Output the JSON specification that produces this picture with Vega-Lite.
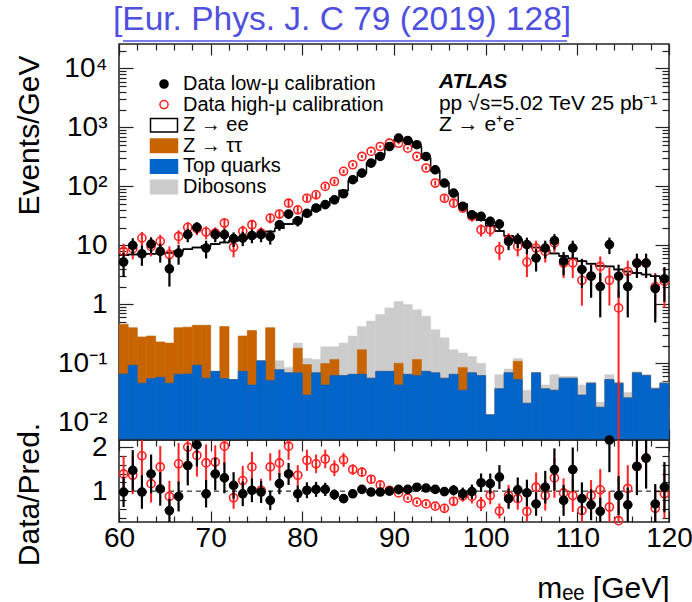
{
  "$schema": "https://vega.github.io/schema/vega-lite/v6.json",
  "autosize": {"type": "pad"},
  "padding": {"left": 13, "top": 3, "right": 0, "bottom": 0},
  "spacing": 0,
  "bounds": "flush",
  "title": {"text": "[Eur. Phys. J. C 79 (2019) 128]", "color": "#5050e0", "fontSize": 33.5, "font": "Liberation Sans", "fontWeight": "normal", "anchor": "start", "frame": "group", "dx": -6, "offset": -28, "baseline": "alphabetic"},
  "config": {
    "font": "Liberation Sans",
    "view": {"stroke": "#222222", "strokeWidth": 1.5},
    "axis": {"domain": false, "grid": false, "minExtent": 0, "labelFont": "Liberation Sans", "labelFontSize": 28, "labelColor": "#000000", "tickColor": "#222222", "tickWidth": 1.2, "titleFont": "Liberation Sans", "titleFontSize": 30, "titleFontWeight": "normal", "titleColor": "#000000", "labelOverlap": false, "labelFlush": false}
  },
  "datasets": {
    "bins": [
      {"m0":60,"m1":61,"m":60.5,"top":0.066,"ztt":0.46,"dib":0.46,"zee":6.8},
      {"m0":61,"m1":62,"m":61.5,"top":0.093,"ztt":0.40,"dib":0.40,"zee":7.0},
      {"m0":62,"m1":63,"m":62.5,"top":0.046,"ztt":0.28,"dib":0.28,"zee":7.1},
      {"m0":63,"m1":64,"m":63.5,"top":0.055,"ztt":0.29,"dib":0.29,"zee":7.2},
      {"m0":64,"m1":65,"m":64.5,"top":0.058,"ztt":0.23,"dib":0.23,"zee":7.3},
      {"m0":65,"m1":66,"m":65.5,"top":0.046,"ztt":0.22,"dib":0.22,"zee":7.5},
      {"m0":66,"m1":67,"m":66.5,"top":0.065,"ztt":0.40,"dib":0.40,"zee":8.0},
      {"m0":67,"m1":68,"m":67.5,"top":0.066,"ztt":0.41,"dib":0.41,"zee":8.6},
      {"m0":68,"m1":69,"m":68.5,"top":0.093,"ztt":0.44,"dib":0.44,"zee":9.2},
      {"m0":69,"m1":70,"m":69.5,"top":0.056,"ztt":0.44,"dib":0.44,"zee":9.8},
      {"m0":70,"m1":71,"m":70.5,"top":0.073,"ztt":0.073,"dib":0.073,"zee":10.5},
      {"m0":71,"m1":72,"m":71.5,"top":0.055,"ztt":0.42,"dib":0.42,"zee":11.2},
      {"m0":72,"m1":73,"m":72.5,"top":0.053,"ztt":0.053,"dib":0.053,"zee":12.0},
      {"m0":73,"m1":74,"m":73.5,"top":0.073,"ztt":0.29,"dib":0.29,"zee":12.9},
      {"m0":74,"m1":75,"m":74.5,"top":0.043,"ztt":0.36,"dib":0.36,"zee":14.0},
      {"m0":75,"m1":76,"m":75.5,"top":0.11,"ztt":0.11,"dib":0.11,"zee":15.3},
      {"m0":76,"m1":77,"m":76.5,"top":0.051,"ztt":0.40,"dib":0.40,"zee":17.2},
      {"m0":77,"m1":78,"m":77.5,"top":0.078,"ztt":0.078,"dib":0.11,"zee":19.5},
      {"m0":78,"m1":79,"m":78.5,"top":0.069,"ztt":0.069,"dib":0.085,"zee":23},
      {"m0":79,"m1":80,"m":79.5,"top":0.069,"ztt":0.18,"dib":0.22,"zee":27},
      {"m0":80,"m1":81,"m":80.5,"top":0.029,"ztt":0.095,"dib":0.12,"zee":33},
      {"m0":81,"m1":82,"m":81.5,"top":0.069,"ztt":0.069,"dib":0.116,"zee":40},
      {"m0":82,"m1":83,"m":82.5,"top":0.043,"ztt":0.099,"dib":0.19,"zee":48},
      {"m0":83,"m1":84,"m":83.5,"top":0.062,"ztt":0.116,"dib":0.19,"zee":62},
      {"m0":84,"m1":85,"m":84.5,"top":0.062,"ztt":0.062,"dib":0.22,"zee":85},
      {"m0":85,"m1":86,"m":85.5,"top":0.065,"ztt":0.065,"dib":0.29,"zee":125},
      {"m0":86,"m1":87,"m":86.5,"top":0.065,"ztt":0.17,"dib":0.42,"zee":170},
      {"m0":87,"m1":88,"m":87.5,"top":0.056,"ztt":0.056,"dib":0.52,"zee":250},
      {"m0":88,"m1":89,"m":88.5,"top":0.073,"ztt":0.073,"dib":0.67,"zee":340},
      {"m0":89,"m1":90,"m":89.5,"top":0.073,"ztt":0.073,"dib":0.87,"zee":470},
      {"m0":90,"m1":91,"m":90.5,"top":0.043,"ztt":0.10,"dib":1.12,"zee":620},
      {"m0":91,"m1":92,"m":91.5,"top":0.065,"ztt":0.065,"dib":0.99,"zee":590},
      {"m0":92,"m1":93,"m":92.5,"top":0.062,"ztt":0.116,"dib":0.81,"zee":470},
      {"m0":93,"m1":94,"m":93.5,"top":0.073,"ztt":0.073,"dib":0.63,"zee":300},
      {"m0":94,"m1":95,"m":94.5,"top":0.069,"ztt":0.069,"dib":0.37,"zee":185},
      {"m0":95,"m1":96,"m":95.5,"top":0.056,"ztt":0.056,"dib":0.27,"zee":115},
      {"m0":96,"m1":97,"m":96.5,"top":0.065,"ztt":0.065,"dib":0.17,"zee":76},
      {"m0":97,"m1":98,"m":97.5,"top":0.035,"ztt":0.085,"dib":0.15,"zee":50},
      {"m0":98,"m1":99,"m":98.5,"top":0.069,"ztt":0.069,"dib":0.13,"zee":35},
      {"m0":99,"m1":100,"m":99.5,"top":0.062,"ztt":0.062,"dib":0.10,"zee":27},
      {"m0":100,"m1":101,"m":100.5,"top":0.0134,"ztt":0.0134,"dib":0.0134,"zee":21.5},
      {"m0":101,"m1":102,"m":101.5,"top":0.037,"ztt":0.037,"dib":0.064,"zee":17.5},
      {"m0":102,"m1":103,"m":102.5,"top":0.069,"ztt":0.069,"dib":0.08,"zee":14.5},
      {"m0":103,"m1":104,"m":103.5,"top":0.053,"ztt":0.108,"dib":0.12,"zee":12.3},
      {"m0":104,"m1":105,"m":104.5,"top":0.021,"ztt":0.021,"dib":0.035,"zee":10.6},
      {"m0":105,"m1":106,"m":105.5,"top":0.069,"ztt":0.069,"dib":0.07,"zee":9.2},
      {"m0":106,"m1":107,"m":106.5,"top":0.037,"ztt":0.037,"dib":0.043,"zee":8.2},
      {"m0":107,"m1":108,"m":107.5,"top":0.035,"ztt":0.035,"dib":0.064,"zee":7.3},
      {"m0":108,"m1":109,"m":108.5,"top":0.056,"ztt":0.056,"dib":0.06,"zee":6.6},
      {"m0":109,"m1":110,"m":109.5,"top":0.056,"ztt":0.056,"dib":0.06,"zee":6.0},
      {"m0":110,"m1":111,"m":110.5,"top":0.029,"ztt":0.029,"dib":0.043,"zee":5.4},
      {"m0":111,"m1":112,"m":111.5,"top":0.046,"ztt":0.046,"dib":0.048,"zee":4.9},
      {"m0":112,"m1":113,"m":112.5,"top":0.018,"ztt":0.018,"dib":0.022,"zee":4.5},
      {"m0":113,"m1":114,"m":113.5,"top":0.053,"ztt":0.053,"dib":0.064,"zee":4.4},
      {"m0":114,"m1":115,"m":114.5,"top":0.046,"ztt":0.046,"dib":0.048,"zee":3.9},
      {"m0":115,"m1":116,"m":115.5,"top":0.026,"ztt":0.026,"dib":0.032,"zee":3.6},
      {"m0":116,"m1":117,"m":116.5,"top":0.069,"ztt":0.069,"dib":0.072,"zee":3.4},
      {"m0":117,"m1":118,"m":117.5,"top":0.062,"ztt":0.062,"dib":0.065,"zee":3.2},
      {"m0":118,"m1":119,"m":118.5,"top":0.037,"ztt":0.037,"dib":0.039,"zee":3.0},
      {"m0":119,"m1":120,"m":119.5,"top":0.046,"ztt":0.046,"dib":0.048,"zee":2.8}
    ],
    "pts": [
      {"m":60.5,"m0":60,"m1":61,"proc":"Data high-μ calibration","v":7.9,"err":2.8,"r":1.39,"rerr":0.41},
      {"m":61.5,"m0":61,"m1":62,"proc":"Data high-μ calibration","v":8.8,"err":3.0,"r":1.36,"rerr":0.43},
      {"m":62.5,"m0":62,"m1":63,"proc":"Data high-μ calibration","v":13.3,"err":3.6,"r":1.80,"rerr":0.51},
      {"m":63.5,"m0":63,"m1":64,"proc":"Data high-μ calibration","v":9.6,"err":3.1,"r":1.17,"rerr":0.43},
      {"m":64.5,"m0":64,"m1":65,"proc":"Data high-μ calibration","v":11.7,"err":3.4,"r":1.55,"rerr":0.47},
      {"m":65.5,"m0":65,"m1":66,"proc":"Data high-μ calibration","v":7.0,"err":2.6,"r":0.88,"rerr":0.35},
      {"m":66.5,"m0":66,"m1":67,"proc":"Data high-μ calibration","v":14.2,"err":3.8,"r":1.62,"rerr":0.47},
      {"m":67.5,"m0":67,"m1":68,"proc":"Data high-μ calibration","v":20.2,"err":4.5,"r":2.0,"rerr":0.52},
      {"m":68.5,"m0":68,"m1":69,"proc":"Data high-μ calibration","v":19.2,"err":4.4,"r":1.81,"rerr":0.48},
      {"m":69.5,"m0":69,"m1":70,"proc":"Data high-μ calibration","v":16.8,"err":4.1,"r":1.64,"rerr":0.42},
      {"m":70.5,"m0":70,"m1":71,"proc":"Data high-μ calibration","v":16.2,"err":4.0,"r":1.66,"rerr":0.38},
      {"m":71.5,"m0":71,"m1":72,"proc":"Data high-μ calibration","v":23.9,"err":4.9,"r":2.02,"rerr":0.44},
      {"m":72.5,"m0":72,"m1":73,"proc":"Data high-μ calibration","v":9.3,"err":3.0,"r":0.85,"rerr":0.25},
      {"m":73.5,"m0":73,"m1":74,"proc":"Data high-μ calibration","v":17.3,"err":4.2,"r":1.24,"rerr":0.33},
      {"m":74.5,"m0":74,"m1":75,"proc":"Data high-μ calibration","v":22.4,"err":4.7,"r":1.55,"rerr":0.34},
      {"m":75.5,"m0":75,"m1":76,"proc":"Data high-μ calibration","v":16.2,"err":4.0,"r":1.02,"rerr":0.26},
      {"m":76.5,"m0":76,"m1":77,"proc":"Data high-μ calibration","v":29,"err":5.4,"r":1.55,"rerr":0.31},
      {"m":77.5,"m0":77,"m1":78,"proc":"Data high-μ calibration","v":34,"err":5.8,"r":1.64,"rerr":0.30},
      {"m":78.5,"m0":78,"m1":79,"proc":"Data high-μ calibration","v":52,"err":7.2,"r":2.02,"rerr":0.31},
      {"m":79.5,"m0":79,"m1":80,"proc":"Data high-μ calibration","v":40,"err":6.3,"r":1.36,"rerr":0.23},
      {"m":80.5,"m0":80,"m1":81,"proc":"Data high-μ calibration","v":63,"err":7.9,"r":1.70,"rerr":0.24},
      {"m":81.5,"m0":81,"m1":82,"proc":"Data high-μ calibration","v":72,"err":8.5,"r":1.62,"rerr":0.21},
      {"m":82.5,"m0":82,"m1":83,"proc":"Data high-μ calibration","v":100,"err":10,"r":1.73,"rerr":0.21},
      {"m":83.5,"m0":83,"m1":84,"proc":"Data high-μ calibration","v":121,"err":11,"r":1.52,"rerr":0.18},
      {"m":84.5,"m0":84,"m1":85,"proc":"Data high-μ calibration","v":180,"err":13.4,"r":1.71,"rerr":0.16},
      {"m":85.5,"m0":85,"m1":86,"proc":"Data high-μ calibration","v":233,"err":15.3,"r":1.49,"rerr":0.12},
      {"m":86.5,"m0":86,"m1":87,"proc":"Data high-μ calibration","v":322,"err":17.9,"r":1.43,"rerr":0.11},
      {"m":87.5,"m0":87,"m1":88,"proc":"Data high-μ calibration","v":392,"err":19.8,"r":1.27,"rerr":0.08},
      {"m":88.5,"m0":88,"m1":89,"proc":"Data high-μ calibration","v":475,"err":21.8,"r":1.14,"rerr":0.06},
      {"m":89.5,"m0":89,"m1":90,"proc":"Data high-μ calibration","v":540,"err":23.2,"r":1.02,"rerr":0.05},
      {"m":90.5,"m0":90,"m1":91,"proc":"Data high-μ calibration","v":540,"err":23.2,"r":0.96,"rerr":0.04},
      {"m":91.5,"m0":91,"m1":92,"proc":"Data high-μ calibration","v":445,"err":21.1,"r":0.84,"rerr":0.04},
      {"m":92.5,"m0":92,"m1":93,"proc":"Data high-μ calibration","v":322,"err":17.9,"r":0.75,"rerr":0.04},
      {"m":93.5,"m0":93,"m1":94,"proc":"Data high-μ calibration","v":205,"err":14.3,"r":0.71,"rerr":0.05},
      {"m":94.5,"m0":94,"m1":95,"proc":"Data high-μ calibration","v":114,"err":10.7,"r":0.66,"rerr":0.06},
      {"m":95.5,"m0":95,"m1":96,"proc":"Data high-μ calibration","v":63,"err":7.9,"r":0.61,"rerr":0.07},
      {"m":96.5,"m0":96,"m1":97,"proc":"Data high-μ calibration","v":52,"err":7.2,"r":0.77,"rerr":0.09},
      {"m":97.5,"m0":97,"m1":98,"proc":"Data high-μ calibration","v":43,"err":6.6,"r":0.89,"rerr":0.13},
      {"m":98.5,"m0":98,"m1":99,"proc":"Data high-μ calibration","v":31,"err":5.6,"r":0.88,"rerr":0.16},
      {"m":99.5,"m0":99,"m1":100,"proc":"Data high-μ calibration","v":18.4,"err":4.3,"r":0.71,"rerr":0.16},
      {"m":100.5,"m0":100,"m1":101,"proc":"Data high-μ calibration","v":18.4,"err":4.3,"r":0.90,"rerr":0.20},
      {"m":101.5,"m0":101,"m1":102,"proc":"Data high-μ calibration","v":8.5,"err":2.9,"r":0.55,"rerr":0.17},
      {"m":102.5,"m0":102,"m1":103,"proc":"Data high-μ calibration","v":12.5,"err":3.5,"r":0.90,"rerr":0.24},
      {"m":103.5,"m0":103,"m1":104,"proc":"Data high-μ calibration","v":9.6,"err":3.1,"r":0.83,"rerr":0.25},
      {"m":104.5,"m0":104,"m1":105,"proc":"Data high-μ calibration","v":5.2,"err":2.3,"r":0.54,"rerr":0.22},
      {"m":105.5,"m0":105,"m1":106,"proc":"Data high-μ calibration","v":9.0,"err":3.0,"r":1.09,"rerr":0.33},
      {"m":106.5,"m0":106,"m1":107,"proc":"Data high-μ calibration","v":7.9,"err":2.8,"r":0.90,"rerr":0.34},
      {"m":107.5,"m0":107,"m1":108,"proc":"Data high-μ calibration","v":11.0,"err":3.3,"r":1.30,"rerr":0.45},
      {"m":108.5,"m0":108,"m1":109,"proc":"Data high-μ calibration","v":5.0,"err":2.2,"r":0.96,"rerr":0.33},
      {"m":109.5,"m0":109,"m1":110,"proc":"Data high-μ calibration","v":5.0,"err":2.2,"r":0.90,"rerr":0.37},
      {"m":110.5,"m0":110,"m1":111,"proc":"Data high-μ calibration","v":2.55,"err":1.6,"r":0.56,"rerr":0.30},
      {"m":111.5,"m0":111,"m1":112,"proc":"Data high-μ calibration","v":3.0,"err":1.7,"r":0.90,"rerr":0.35},
      {"m":112.5,"m0":112,"m1":113,"proc":"Data high-μ calibration","v":4.4,"err":2.1,"r":1.03,"rerr":0.47},
      {"m":113.5,"m0":113,"m1":114,"proc":"Data high-μ calibration","v":2.55,"err":1.6,"r":0.64,"rerr":0.36},
      {"m":114.5,"m0":114,"m1":115,"proc":"Data high-μ calibration","v":0.87,"err":0.868,"r":0.33,"rerr":2.0},
      {"m":115.5,"m0":115,"m1":116,"proc":"Data high-μ calibration","v":3.6,"err":1.9,"r":1.06,"rerr":0.53},
      {"m":116.5,"m0":116,"m1":117,"proc":"Data high-μ calibration","v":5.0,"err":2.2,"r":1.56,"rerr":0.65},
      {"m":117.5,"m0":117,"m1":118,"proc":"Data high-μ calibration","v":5.0,"err":2.2,"r":1.75,"rerr":0.69},
      {"m":118.5,"m0":118,"m1":119,"proc":"Data high-μ calibration","v":2.0,"err":1.4,"r":0.61,"rerr":0.47},
      {"m":119.5,"m0":119,"m1":120,"proc":"Data high-μ calibration","v":2.45,"err":1.57,"r":0.94,"rerr":0.56},
      {"m":60.5,"m0":60,"m1":61,"proc":"Data low-μ calibration","v":5.2,"err":2.3,"r":0.98,"rerr":0.34},
      {"m":61.5,"m0":61,"m1":62,"proc":"Data low-μ calibration","v":10.0,"err":3.2,"r":1.47,"rerr":0.46},
      {"m":62.5,"m0":62,"m1":63,"proc":"Data low-μ calibration","v":7.2,"err":2.7,"r":0.98,"rerr":0.38},
      {"m":63.5,"m0":63,"m1":64,"proc":"Data low-μ calibration","v":10.5,"err":3.2,"r":1.39,"rerr":0.44},
      {"m":64.5,"m0":64,"m1":65,"proc":"Data low-μ calibration","v":7.9,"err":2.8,"r":1.05,"rerr":0.38},
      {"m":65.5,"m0":65,"m1":66,"proc":"Data low-μ calibration","v":4.0,"err":2.0,"r":0.56,"rerr":0.27},
      {"m":66.5,"m0":66,"m1":67,"proc":"Data low-μ calibration","v":7.4,"err":2.7,"r":0.88,"rerr":0.34},
      {"m":67.5,"m0":67,"m1":68,"proc":"Data low-μ calibration","v":15.2,"err":3.9,"r":1.58,"rerr":0.45},
      {"m":68.5,"m0":68,"m1":69,"proc":"Data low-μ calibration","v":20.2,"err":4.5,"r":2.05,"rerr":0.49},
      {"m":69.5,"m0":69,"m1":70,"proc":"Data low-μ calibration","v":9.0,"err":3.0,"r":0.94,"rerr":0.31},
      {"m":70.5,"m0":70,"m1":71,"proc":"Data low-μ calibration","v":15.2,"err":3.9,"r":1.39,"rerr":0.37},
      {"m":71.5,"m0":71,"m1":72,"proc":"Data low-μ calibration","v":15.2,"err":3.9,"r":1.30,"rerr":0.35},
      {"m":72.5,"m0":72,"m1":73,"proc":"Data low-μ calibration","v":13.0,"err":3.6,"r":1.13,"rerr":0.30},
      {"m":73.5,"m0":73,"m1":74,"proc":"Data low-μ calibration","v":13.3,"err":3.6,"r":0.94,"rerr":0.28},
      {"m":74.5,"m0":74,"m1":75,"proc":"Data low-μ calibration","v":14.7,"err":3.8,"r":1.02,"rerr":0.27},
      {"m":75.5,"m0":75,"m1":76,"proc":"Data low-μ calibration","v":15.2,"err":3.9,"r":0.98,"rerr":0.25},
      {"m":76.5,"m0":76,"m1":77,"proc":"Data low-μ calibration","v":14.1,"err":3.8,"r":0.79,"rerr":0.22},
      {"m":77.5,"m0":77,"m1":78,"proc":"Data low-μ calibration","v":22.4,"err":4.7,"r":1.17,"rerr":0.24},
      {"m":78.5,"m0":78,"m1":79,"proc":"Data low-μ calibration","v":34,"err":5.8,"r":1.39,"rerr":0.25},
      {"m":79.5,"m0":79,"m1":80,"proc":"Data low-μ calibration","v":26,"err":5.1,"r":0.94,"rerr":0.19},
      {"m":80.5,"m0":80,"m1":81,"proc":"Data low-μ calibration","v":35,"err":5.9,"r":1.02,"rerr":0.18},
      {"m":81.5,"m0":81,"m1":82,"proc":"Data low-μ calibration","v":43,"err":6.6,"r":1.04,"rerr":0.17},
      {"m":82.5,"m0":82,"m1":83,"proc":"Data low-μ calibration","v":49,"err":7.0,"r":1.04,"rerr":0.15},
      {"m":83.5,"m0":83,"m1":84,"proc":"Data low-μ calibration","v":59,"err":7.7,"r":0.92,"rerr":0.12},
      {"m":84.5,"m0":84,"m1":85,"proc":"Data low-μ calibration","v":75,"err":8.7,"r":0.83,"rerr":0.10},
      {"m":85.5,"m0":85,"m1":86,"proc":"Data low-μ calibration","v":130,"err":11.4,"r":0.94,"rerr":0.09},
      {"m":86.5,"m0":86,"m1":87,"proc":"Data low-μ calibration","v":168,"err":13,"r":1.04,"rerr":0.08},
      {"m":87.5,"m0":87,"m1":88,"proc":"Data low-μ calibration","v":248,"err":15.7,"r":0.98,"rerr":0.06},
      {"m":88.5,"m0":88,"m1":89,"proc":"Data low-μ calibration","v":322,"err":17.9,"r":0.98,"rerr":0.05},
      {"m":89.5,"m0":89,"m1":90,"proc":"Data low-μ calibration","v":475,"err":21.8,"r":1.0,"rerr":0.05},
      {"m":90.5,"m0":90,"m1":91,"proc":"Data low-μ calibration","v":660,"err":25.7,"r":1.04,"rerr":0.04},
      {"m":91.5,"m0":91,"m1":92,"proc":"Data low-μ calibration","v":600,"err":24.5,"r":1.04,"rerr":0.04},
      {"m":92.5,"m0":92,"m1":93,"proc":"Data low-μ calibration","v":510,"err":22.6,"r":1.09,"rerr":0.05},
      {"m":93.5,"m0":93,"m1":94,"proc":"Data low-μ calibration","v":322,"err":17.9,"r":1.07,"rerr":0.06},
      {"m":94.5,"m0":94,"m1":95,"proc":"Data low-μ calibration","v":191,"err":13.8,"r":1.04,"rerr":0.07},
      {"m":95.5,"m0":95,"m1":96,"proc":"Data low-μ calibration","v":114,"err":10.7,"r":0.99,"rerr":0.09},
      {"m":96.5,"m0":96,"m1":97,"proc":"Data low-μ calibration","v":77,"err":8.8,"r":1.02,"rerr":0.12},
      {"m":97.5,"m0":97,"m1":98,"proc":"Data low-μ calibration","v":46,"err":6.8,"r":0.94,"rerr":0.14},
      {"m":98.5,"m0":98,"m1":99,"proc":"Data low-μ calibration","v":33,"err":5.7,"r":0.99,"rerr":0.16},
      {"m":99.5,"m0":99,"m1":100,"proc":"Data low-μ calibration","v":31,"err":5.6,"r":1.19,"rerr":0.21},
      {"m":100.5,"m0":100,"m1":101,"proc":"Data low-μ calibration","v":25.5,"err":5.0,"r":1.17,"rerr":0.23},
      {"m":101.5,"m0":101,"m1":102,"proc":"Data low-μ calibration","v":23,"err":4.8,"r":1.32,"rerr":0.27},
      {"m":102.5,"m0":102,"m1":103,"proc":"Data low-μ calibration","v":11.7,"err":3.4,"r":0.83,"rerr":0.23},
      {"m":103.5,"m0":103,"m1":104,"proc":"Data low-μ calibration","v":12.5,"err":3.5,"r":1.03,"rerr":0.28},
      {"m":104.5,"m0":104,"m1":105,"proc":"Data low-μ calibration","v":10.3,"err":3.2,"r":0.96,"rerr":0.30},
      {"m":105.5,"m0":105,"m1":106,"proc":"Data low-μ calibration","v":6.1,"err":2.5,"r":0.71,"rerr":0.27},
      {"m":106.5,"m0":106,"m1":107,"proc":"Data low-μ calibration","v":9.0,"err":3.0,"r":1.09,"rerr":0.37},
      {"m":107.5,"m0":107,"m1":108,"proc":"Data low-μ calibration","v":12.0,"err":3.5,"r":1.49,"rerr":0.48},
      {"m":108.5,"m0":108,"m1":109,"proc":"Data low-μ calibration","v":5.4,"err":2.3,"r":0.79,"rerr":0.35},
      {"m":109.5,"m0":109,"m1":110,"proc":"Data low-μ calibration","v":9.0,"err":3.0,"r":1.49,"rerr":0.50},
      {"m":110.5,"m0":110,"m1":111,"proc":"Data low-μ calibration","v":3.9,"err":2.0,"r":0.83,"rerr":0.37},
      {"m":111.5,"m0":111,"m1":112,"proc":"Data low-μ calibration","v":3.0,"err":1.7,"r":0.69,"rerr":0.35},
      {"m":112.5,"m0":112,"m1":113,"proc":"Data low-μ calibration","v":2.0,"err":1.4,"r":0.54,"rerr":0.31},
      {"m":113.5,"m0":113,"m1":114,"proc":"Data low-μ calibration","v":10.3,"err":3.2,"r":2.16,"rerr":0.73},
      {"m":114.5,"m0":114,"m1":115,"proc":"Data low-μ calibration","v":3.0,"err":1.7,"r":0.90,"rerr":0.44},
      {"m":115.5,"m0":115,"m1":116,"proc":"Data low-μ calibration","v":2.0,"err":1.4,"r":0.69,"rerr":0.39},
      {"m":116.5,"m0":116,"m1":117,"proc":"Data low-μ calibration","v":5.0,"err":2.2,"r":1.56,"rerr":0.65},
      {"m":117.5,"m0":117,"m1":118,"proc":"Data low-μ calibration","v":5.0,"err":2.2,"r":1.75,"rerr":0.69},
      {"m":118.5,"m0":118,"m1":119,"proc":"Data low-μ calibration","v":1.85,"err":1.36,"r":0.71,"rerr":0.45},
      {"m":119.5,"m0":119,"m1":120,"proc":"Data low-μ calibration","v":2.7,"err":1.6,"r":1.09,"rerr":0.57}
    ]
  },
  "vconcat": [
    {
      "width": 550,
      "height": 396,
      "resolve": {"axis": {"x": "independent", "y": "independent"}},
      "layer": [
        {
          "data": {"name": "bins"},
          "mark": {"type": "bar", "fill": "#cccccc", "stroke": "#cccccc", "strokeWidth": 0.5, "clip": true},
          "encoding": {
            "x": {"field": "m0", "type": "quantitative", "scale": {"domain": [60, 120], "nice": false, "zero": false},
                  "axis": {"orient": "bottom", "title": null, "labels": false, "values": [60,62,64,66,68,70,72,74,76,78,80,82,84,86,88,90,92,94,96,98,100,102,104,106,108,110,112,114,116,118,120],
                           "tickSize": {"condition": {"test": "datum.value % 10 == 0", "value": -11}, "value": -6}}},
            "x2": {"field": "m1"},
            "y": {"field": "dib", "type": "quantitative", "scale": {"type": "log", "domain": [0.005, 26000], "nice": false},
                  "axis": {"orient": "left", "values": [0.006,0.007,0.008,0.009,0.01,0.02,0.03,0.04,0.05,0.06,0.07,0.08,0.09,0.1,0.2,0.3,0.4,0.5,0.6,0.7,0.8,0.9,1,2,3,4,5,6,7,8,9,10,20,30,40,50,60,70,80,90,100,200,300,400,500,600,700,800,900,1000,2000,3000,4000,5000,6000,7000,8000,9000,10000,20000],
                           "labelExpr": "datum.value == 10000 ? '10⁴' : datum.value == 1000 ? '10³' : datum.value == 100 ? '10²' : datum.value == 10 ? '10' : datum.value == 1 ? '1' : datum.value == 0.1 ? '10⁻¹' : datum.value == 0.01 ? '10⁻²' : ''",
                           "tickSize": {"condition": {"test": "indexof([0.01,0.1,1,10,100,1000,10000], datum.value) >= 0", "value": -14}, "value": -7},
                           "labelPadding": 26,
                           "title": "Events/GeV", "titleAngle": -90, "titleAlign": "right", "titleBaseline": "alphabetic", "titleX": -81, "titleY": 11}},
            "y2": {"datum": 0.001}
          }
        },
        {
          "data": {"name": "bins"},
          "mark": {"type": "bar", "fill": "#c86400", "stroke": "#c86400", "strokeWidth": 0.5, "clip": true},
          "encoding": {
            "x": {"field": "m0", "type": "quantitative", "axis": null},
            "x2": {"field": "m1"},
            "y": {"field": "ztt", "type": "quantitative", "axis": null},
            "y2": {"datum": 0.001}
          }
        },
        {
          "data": {"name": "bins"},
          "mark": {"type": "bar", "fill": "#0064c8", "stroke": "#0064c8", "strokeWidth": 0.5, "clip": true},
          "encoding": {
            "x": {"field": "m0", "type": "quantitative", "axis": null},
            "x2": {"field": "m1"},
            "y": {"field": "top", "type": "quantitative", "axis": null},
            "y2": {"datum": 0.001}
          }
        },
        {
          "data": {"name": "bins"},
          "mark": {"type": "line", "interpolate": "step", "color": "#000000", "strokeWidth": 1.5, "clip": true},
          "encoding": {
            "x": {"field": "m", "type": "quantitative",
                  "axis": {"orient": "top", "title": null, "labels": false, "values": [60,62,64,66,68,70,72,74,76,78,80,82,84,86,88,90,92,94,96,98,100,102,104,106,108,110,112,114,116,118,120],
                           "tickSize": {"condition": {"test": "datum.value % 10 == 0", "value": -11}, "value": -6}}},
            "y": {"field": "zee", "type": "quantitative",
                  "axis": {"orient": "right", "title": null, "labels": false, "values": [0.006,0.007,0.008,0.009,0.01,0.02,0.03,0.04,0.05,0.06,0.07,0.08,0.09,0.1,0.2,0.3,0.4,0.5,0.6,0.7,0.8,0.9,1,2,3,4,5,6,7,8,9,10,20,30,40,50,60,70,80,90,100,200,300,400,500,600,700,800,900,1000,2000,3000,4000,5000,6000,7000,8000,9000,10000,20000],
                           "tickSize": {"condition": {"test": "indexof([0.01,0.1,1,10,100,1000,10000], datum.value) >= 0", "value": -14}, "value": -7}}}
          }
        },
        {
          "data": {"name": "bins"},
          "mark": {"type": "rule", "color": "#000000", "strokeWidth": 1.5, "clip": true},
          "encoding": {
            "x": {"field": "m0", "type": "quantitative", "axis": null},
            "x2": {"field": "m1"},
            "y": {"field": "zee", "type": "quantitative", "axis": null}
          }
        },
        {
          "data": {"name": "pts"},
          "transform": [{"filter": "datum.proc == 'Data high-μ calibration'"}],
          "mark": {"type": "errorbar", "ticks": false, "thickness": 2, "color": "#ff2020", "clip": true, "rule": {"clip": true}},
          "encoding": {
            "x": {"field": "m", "type": "quantitative", "axis": null},
            "y": {"field": "v", "type": "quantitative", "axis": null},
            "yError": {"field": "err"}
          }
        },
        {
          "data": {"name": "pts"},
          "transform": [{"filter": "datum.proc == 'Data high-μ calibration'"}],
          "mark": {"type": "point", "size": 182, "strokeWidth": 1.6, "opacity": 1},
          "encoding": {
            "x": {"field": "m", "type": "quantitative", "axis": null},
            "y": {"field": "v", "type": "quantitative", "axis": null},
            "fill": {"field": "proc", "type": "nominal",
                     "scale": {"domain": ["Data low-μ calibration", "Data high-μ calibration", "Z → ee", "Z → ττ", "Top quarks", "Dibosons"], "range": ["#000000", "transparent", "#ffffff", "#c86400", "#0064c8", "#cccccc"]},
                     "legend": {"orient": "none", "legendX": 35, "legendY": 30, "title": null, "labelFont": "Liberation Sans", "labelFontSize": 20, "labelColor": "#000000", "symbolSize": 182, "labelOffset": 9, "rowPadding": 0.6, "symbolStrokeWidth": 1.5, "symbolOpacity": 1, "labelLimit": 400, "padding": 0}},
            "stroke": {"field": "proc", "type": "nominal",
                     "scale": {"domain": ["Data low-μ calibration", "Data high-μ calibration", "Z → ee", "Z → ττ", "Top quarks", "Dibosons"], "range": ["#000000", "#ff2020", "#000000", "#c86400", "#0064c8", "#cccccc"]},
                     "legend": {"orient": "none", "legendX": 35, "legendY": 30, "title": null, "labelFont": "Liberation Sans", "labelFontSize": 20, "labelColor": "#000000", "symbolSize": 182, "labelOffset": 9, "rowPadding": 0.6, "symbolStrokeWidth": 1.5, "symbolOpacity": 1, "labelLimit": 400, "padding": 0}},
            "shape": {"field": "proc", "type": "nominal",
                     "scale": {"domain": ["Data low-μ calibration", "Data high-μ calibration", "Z → ee", "Z → ττ", "Top quarks", "Dibosons"], "range": ["M-0.6,0A0.6,0.6,0,1,0,0.6,0A0.6,0.6,0,1,0,-0.6,0Z", "M-0.6,0A0.6,0.6,0,1,0,0.6,0A0.6,0.6,0,1,0,-0.6,0Z", "M-2,-1H2V1H-2Z", "M-2,-1H2V1H-2Z", "M-2,-1H2V1H-2Z", "M-2,-1H2V1H-2Z"]},
                     "legend": {"orient": "none", "legendX": 35, "legendY": 30, "title": null, "labelFont": "Liberation Sans", "labelFontSize": 20, "labelColor": "#000000", "symbolSize": 182, "labelOffset": 9, "rowPadding": 0.6, "symbolStrokeWidth": 1.5, "symbolOpacity": 1, "labelLimit": 400, "padding": 0}}
          }
        },
        {
          "data": {"name": "pts"},
          "transform": [{"filter": "datum.proc == 'Data low-μ calibration'"}],
          "mark": {"type": "errorbar", "ticks": false, "thickness": 2.2, "color": "#000000", "clip": true, "rule": {"clip": true}},
          "encoding": {
            "x": {"field": "m", "type": "quantitative", "axis": null},
            "y": {"field": "v", "type": "quantitative", "axis": null},
            "yError": {"field": "err"}
          }
        },
        {
          "data": {"name": "pts"},
          "transform": [{"filter": "datum.proc == 'Data low-μ calibration'"}],
          "mark": {"type": "rule", "color": "#000000", "strokeWidth": 2, "clip": true},
          "encoding": {
            "x": {"field": "m0", "type": "quantitative", "axis": null},
            "x2": {"field": "m1"},
            "y": {"field": "v", "type": "quantitative", "axis": null}
          }
        },
        {
          "data": {"name": "pts"},
          "transform": [{"filter": "datum.proc == 'Data low-μ calibration'"}],
          "mark": {"type": "point", "size": 182, "strokeWidth": 1.5, "opacity": 1},
          "encoding": {
            "x": {"field": "m", "type": "quantitative", "axis": null},
            "y": {"field": "v", "type": "quantitative", "axis": null},
            "fill": {"field": "proc", "type": "nominal"},
            "stroke": {"field": "proc", "type": "nominal"},
            "shape": {"field": "proc", "type": "nominal"}
          }
        },
        {
          "data": {"values": [{}]},
          "mark": {"type": "text", "text": "ATLAS", "align": "left", "baseline": "middle", "font": "Liberation Sans", "fontSize": 21, "fontStyle": "italic", "fontWeight": "bold", "color": "#000000"},
          "encoding": {"x": {"datum": 94.9, "type": "quantitative", "axis": null}, "y": {"datum": 6000, "type": "quantitative", "axis": null}}
        },
        {
          "data": {"values": [{}]},
          "mark": {"type": "text", "text": "pp  √s=5.02 TeV 25 pb⁻¹", "align": "left", "baseline": "middle", "font": "Liberation Sans", "fontSize": 21, "color": "#000000"},
          "encoding": {"x": {"datum": 94.9, "type": "quantitative", "axis": null}, "y": {"datum": 2450, "type": "quantitative", "axis": null}}
        },
        {
          "data": {"values": [{}]},
          "mark": {"type": "text", "text": "Z → e⁺e⁻", "align": "left", "baseline": "middle", "font": "Liberation Sans", "fontSize": 21, "color": "#000000"},
          "encoding": {"x": {"datum": 94.9, "type": "quantitative", "axis": null}, "y": {"datum": 1080, "type": "quantitative", "axis": null}}
        },
        {
          "data": {"values": [{}]},
          "mark": {"type": "rule", "color": "#5050e0", "strokeWidth": 1.5, "clip": false},
          "encoding": {"x": {"datum": 60.44, "type": "quantitative", "axis": null}, "x2": {"datum": 108.87}, "y": {"datum": 29240, "type": "quantitative", "axis": null}}
        }
      ]
    },
    {
      "width": 550,
      "height": 82,
      "resolve": {"axis": {"x": "independent", "y": "independent"}},
      "data": {"name": "pts"},
      "layer": [
        {
          "data": {"values": [{}]},
          "mark": {"type": "rule", "color": "#000000", "strokeWidth": 1, "strokeDash": [5, 4]},
          "encoding": {"y": {"datum": 1, "type": "quantitative", "scale": {"domain": [0.3, 2.16], "nice": false, "zero": false}, "axis": null}}
        },
        {
          "transform": [{"filter": "datum.proc == 'Data high-μ calibration'"}],
          "mark": {"type": "errorbar", "ticks": false, "thickness": 2, "color": "#ff2020", "clip": true, "rule": {"clip": true}},
          "encoding": {
            "x": {"field": "m", "type": "quantitative", "scale": {"domain": [60, 120], "nice": false, "zero": false}, "axis": null},
            "y": {"field": "r", "type": "quantitative", "axis": null},
            "yError": {"field": "rerr"}
          }
        },
        {
          "transform": [{"filter": "datum.proc == 'Data high-μ calibration'"}],
          "mark": {"type": "point", "size": 182, "strokeWidth": 1.6, "opacity": 1, "fill": "transparent", "stroke": "#ff2020", "shape": "M-0.6,0A0.6,0.6,0,1,0,0.6,0A0.6,0.6,0,1,0,-0.6,0Z"},
          "encoding": {
            "x": {"field": "m", "type": "quantitative",
                  "axis": {"orient": "bottom", "title": "mₑₑ [GeV]", "titleAlign": "right", "titleBaseline": "alphabetic", "titleX": 550, "titleY": 75,
                           "values": [60,62,64,66,68,70,72,74,76,78,80,82,84,86,88,90,92,94,96,98,100,102,104,106,108,110,112,114,116,118,120],
                           "labelExpr": "datum.value % 10 == 0 ? format(datum.value, 'd') : ''",
                           "labelPadding": 13,
                           "tickSize": {"condition": {"test": "datum.value % 10 == 0", "value": -11}, "value": -6}}},
            "y": {"field": "r", "type": "quantitative",
                  "axis": {"orient": "left", "values": [0.4,0.6,0.8,1,1.2,1.4,1.6,1.8,2],
                           "labelExpr": "datum.value == 1 ? '1' : datum.value == 2 ? '2' : ''",
                           "tickSize": {"condition": {"test": "datum.value == 1 || datum.value == 2", "value": -14}, "value": -7},
                           "labelPadding": 26,
                           "title": "Data/Pred.", "titleAngle": -90, "titleAlign": "center", "titleBaseline": "alphabetic", "titleX": -81, "titleY": 54}}
          }
        },
        {
          "transform": [{"filter": "datum.proc == 'Data low-μ calibration'"}],
          "mark": {"type": "errorbar", "ticks": false, "thickness": 2.2, "color": "#000000", "clip": true, "rule": {"clip": true}},
          "encoding": {
            "x": {"field": "m", "type": "quantitative", "axis": null},
            "y": {"field": "r", "type": "quantitative", "axis": null},
            "yError": {"field": "rerr"}
          }
        },
        {
          "transform": [{"filter": "datum.proc == 'Data low-μ calibration'"}],
          "mark": {"type": "rule", "color": "#000000", "strokeWidth": 2, "clip": true},
          "encoding": {
            "x": {"field": "m0", "type": "quantitative", "axis": null},
            "x2": {"field": "m1"},
            "y": {"field": "r", "type": "quantitative", "axis": null}
          }
        },
        {
          "transform": [{"filter": "datum.proc == 'Data low-μ calibration'"}],
          "mark": {"type": "point", "size": 182, "strokeWidth": 1.5, "opacity": 1, "fill": "#000000", "stroke": "#000000", "shape": "M-0.6,0A0.6,0.6,0,1,0,0.6,0A0.6,0.6,0,1,0,-0.6,0Z"},
          "encoding": {
            "x": {"field": "m", "type": "quantitative",
                  "axis": {"orient": "top", "title": null, "labels": false, "values": [60,62,64,66,68,70,72,74,76,78,80,82,84,86,88,90,92,94,96,98,100,102,104,106,108,110,112,114,116,118,120],
                           "tickSize": {"condition": {"test": "datum.value % 10 == 0", "value": -11}, "value": -6}}},
            "y": {"field": "r", "type": "quantitative",
                  "axis": {"orient": "right", "title": null, "labels": false, "values": [0.4,0.6,0.8,1,1.2,1.4,1.6,1.8,2],
                           "tickSize": {"condition": {"test": "datum.value == 1 || datum.value == 2", "value": -14}, "value": -7}}}
          }
        }
      ]
    }
  ]
}
